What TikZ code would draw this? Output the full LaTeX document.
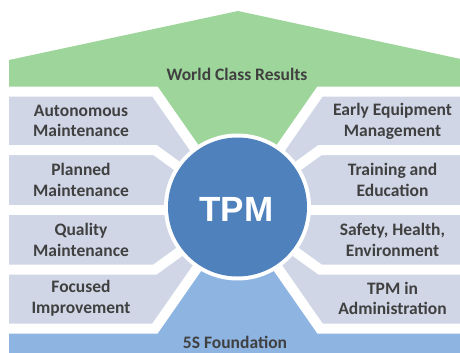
\documentclass[tikz,border=0pt]{standalone}
\usepackage{fontspec}
\setmainfont{Carlito}
\newfontfamily\arialfont{Liberation Sans}
\definecolor{wgreen}{RGB}{157,213,154}
\definecolor{boxgray}{RGB}{208,214,230}
\definecolor{tpmblue}{RGB}{79,129,189}
\definecolor{lblue}{RGB}{142,180,226}
\definecolor{txt}{RGB}{64,64,64}
\begin{document}
\begin{tikzpicture}[x=1pt,y=-1pt,
  sep/.style={draw=white,line width=10pt,line join=miter},
  lbl/.style={text=txt,font=\bfseries\fontsize{17.5}{20.7}\selectfont,align=center,inner sep=0pt}]
\useasboundingbox (0,0) rectangle (460,353);
\clip (0,0) rectangle (460,353);
\coordinate (c) at (237.5,207);
\coordinate (cm) at (237.5,210);
\fill[boxgray] (9,91) rectangle (470,328);
\fill[wgreen] (9,60) -- (238,11) -- (470,61) -- (470,91.5) -- (320,91.5) -- (cm) -- (155,91.5) -- (9,91.5) -- cycle;
\fill[lblue] (9,328.5) -- (155,328.5) -- (cm) -- (320,328.5) -- (470,328.5) -- (470,360) -- (9,360) -- cycle;
% separators left
\draw[sep] (0,91.5) -- (155,91.5) -- (cm);
\draw[sep] (0,150) -- (155,150) -- (cm);
\draw[sep] (0,210) -- (cm);
\draw[sep] (0,269.5) -- (155,269.5) -- (cm);
\draw[sep] (0,328.5) -- (155,328.5) -- (cm);
% separators right
\draw[sep] (470,91.5) -- (320,91.5) -- (cm);
\draw[sep] (470,150) -- (320,150) -- (cm);
\draw[sep] (470,210) -- (cm);
\draw[sep] (470,269.5) -- (320,269.5) -- (cm);
\draw[sep] (470,328.5) -- (320,328.5) -- (cm);
% circle
\fill[white] (c) circle (73.5);
\fill[tpmblue] (c) circle (69.5);
\node[text=white,font=\arialfont\bfseries\fontsize{35}{40}\selectfont,inner sep=0pt] (tpm) at (236.5,209) {TPM};
% labels
\node[lbl] (wcr) at (237,74) {World Class Results};
\node[lbl] (l1) at (81,121) {Autonomous\\Maintenance};
\node[lbl] (l2) at (81,180) {Planned\\Maintenance};
\node[lbl] (l3) at (81,240) {Quality\\Maintenance};
\node[lbl] (l4) at (81,298.5) {Focused\\Improvement};
\node[lbl] (r1) at (392.5,121) {Early Equipment\\Management};
\node[lbl] (r2) at (392.5,180) {Training and\\Education};
\node[lbl] (r3) at (392.5,240) {Safety, Health,\\Environment};
\node[lbl] (r4) at (392.5,298.5) {TPM in\\Administration};
\node[lbl,anchor=base] (fs) at (235,348) {5S Foundation};
\end{tikzpicture}
\end{document}
